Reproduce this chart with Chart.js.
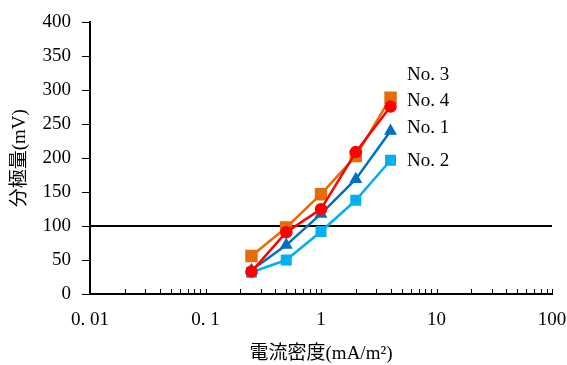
<!DOCTYPE html>
<html>
<head>
<meta charset="utf-8">
<script src="https://cdn.jsdelivr.net/npm/chart.js@4"></script>
<style>
  html, body { margin: 0; padding: 0; background: #fff; }
  #wrap { width: 567px; height: 365px; }
</style>
</head>
<body>
<div id="wrap"><canvas id="chart"></canvas></div>
<script>
// current density (mA/m2) and polarization (mV) per specimen
const density = [0.25, 0.5, 1, 2, 4];
const no1 = [35, 72, 118, 169, 240];
const no2 = [32, 50, 92, 138, 197];
const no3 = [56, 98, 147, 203, 289];
const no4 = [33, 91, 125, 209, 276];
const refLine = [{ x: 0.01, y: 100 }, { x: 100, y: 100 }];
const xTicks = [0.01, 0.1, 1, 10, 100];
const xTickLabels = ['0. 01', '0. 1', '1', '10', '100'];
const seriesNames = ['No. 1', 'No. 2', 'No. 3', 'No. 4'];

const FONT = '"Liberation Serif", "Noto Sans CJK JP", serif';

function pts(arr) {
  return density.map((d, i) => ({ x: d, y: arr[i] }));
}

// minor + major ticks pointing up into the plot on the x axis, and series labels
const extras = {
  id: 'extras',
  afterDraw(chart) {
    const c = chart.ctx;
    const xs = chart.scales.x;
    const bottom = chart.chartArea.bottom;
    c.save();
    c.strokeStyle = '#000';
    c.lineWidth = 1;
    for (let dec = 0.01; dec < 100; dec *= 10) {
      for (let m = 1; m <= 10; m++) {
        const v = dec * m;
        if (v < 0.01 || v > 100) continue;
        const px = Math.round(xs.getPixelForValue(v)) + 0.5;
        c.beginPath();
        c.moveTo(px, bottom);
        c.lineTo(px, bottom - 5);
        c.stroke();
      }
    }
    // labels to the right of the curves
    c.fillStyle = '#000';
    c.font = '19px ' + FONT;
    c.textBaseline = 'middle';
    c.textAlign = 'left';
    const labelY = { 'No. 3': 75, 'No. 4': 101, 'No. 1': 128, 'No. 2': 161 };
    seriesNames.forEach(n => c.fillText(n, 407, labelY[n]));
    c.restore();
  }
};

new Chart(document.getElementById('chart'), {
  type: 'line',
  data: {
    datasets: [
      {
        label: seriesNames[0], data: pts(no1), order: 3,
        borderColor: '#0070C0', backgroundColor: '#0070C0',
        borderWidth: 2.5, pointStyle: 'triangle', pointRadius: 5
      },
      {
        label: seriesNames[1], data: pts(no2), order: 4,
        borderColor: '#00B0F0', backgroundColor: '#00B0F0',
        borderWidth: 2.5, pointStyle: 'rect', pointRadius: 6
      },
      {
        label: seriesNames[2], data: pts(no3), order: 2,
        borderColor: '#E46C0A', backgroundColor: '#E46C0A',
        borderWidth: 2.5, pointStyle: 'rect', pointRadius: 7
      },
      {
        label: seriesNames[3], data: pts(no4), order: 1,
        borderColor: '#FF0000', backgroundColor: '#FF0000',
        borderWidth: 2.5, pointStyle: 'circle', pointRadius: 5
      },
      {
        label: 'ref', data: refLine, order: 5,
        borderColor: '#000', borderWidth: 2, pointRadius: 0
      }
    ]
  },
  options: {
    responsive: true,
    maintainAspectRatio: false,
    animation: false,
    layout: { padding: { top: 17, right: 15, left: 0, bottom: 0 } },
    plugins: {
      legend: { display: false },
      tooltip: { enabled: false }
    },
    scales: {
      x: {
        type: 'logarithmic',
        min: 0.01,
        max: 100,
        afterBuildTicks: s => { s.ticks = xTicks.map(v => ({ value: v })); },
        afterFit: s => { s.height = 71; s.paddingRight = 0; s.paddingLeft = 0; },
        border: { display: true, color: '#000', width: 2 },
        grid: { display: false },
        ticks: {
          autoSkip: false,
          maxRotation: 0,
          padding: 7,
          color: '#000',
          font: { family: FONT, size: 19 },
          callback: (v) => {
            const i = xTicks.indexOf(v);
            return i >= 0 ? xTickLabels[i] : '';
          }
        },
        title: {
          display: true,
          text: '電流密度(mA/m²)',
          color: '#000',
          font: { family: FONT, size: 19 },
          padding: { top: 6, bottom: 0 }
        }
      },
      y: {
        min: 0,
        max: 400,
        afterFit: s => { s.width = 90; },
        border: { display: true, color: '#000', width: 2 },
        grid: { drawOnChartArea: false, drawTicks: true, tickLength: 8, color: '#000', lineWidth: 1 },
        ticks: {
          stepSize: 50,
          padding: 11,
          color: '#000',
          font: { family: FONT, size: 19 }
        },
        title: {
          display: true,
          text: '分極量(mV)',
          color: '#000',
          font: { family: FONT, size: 19 },
          padding: { top: 9, bottom: 0 }
        }
      }
    }
  },
  plugins: [extras]
});
</script>
</body>
</html>
